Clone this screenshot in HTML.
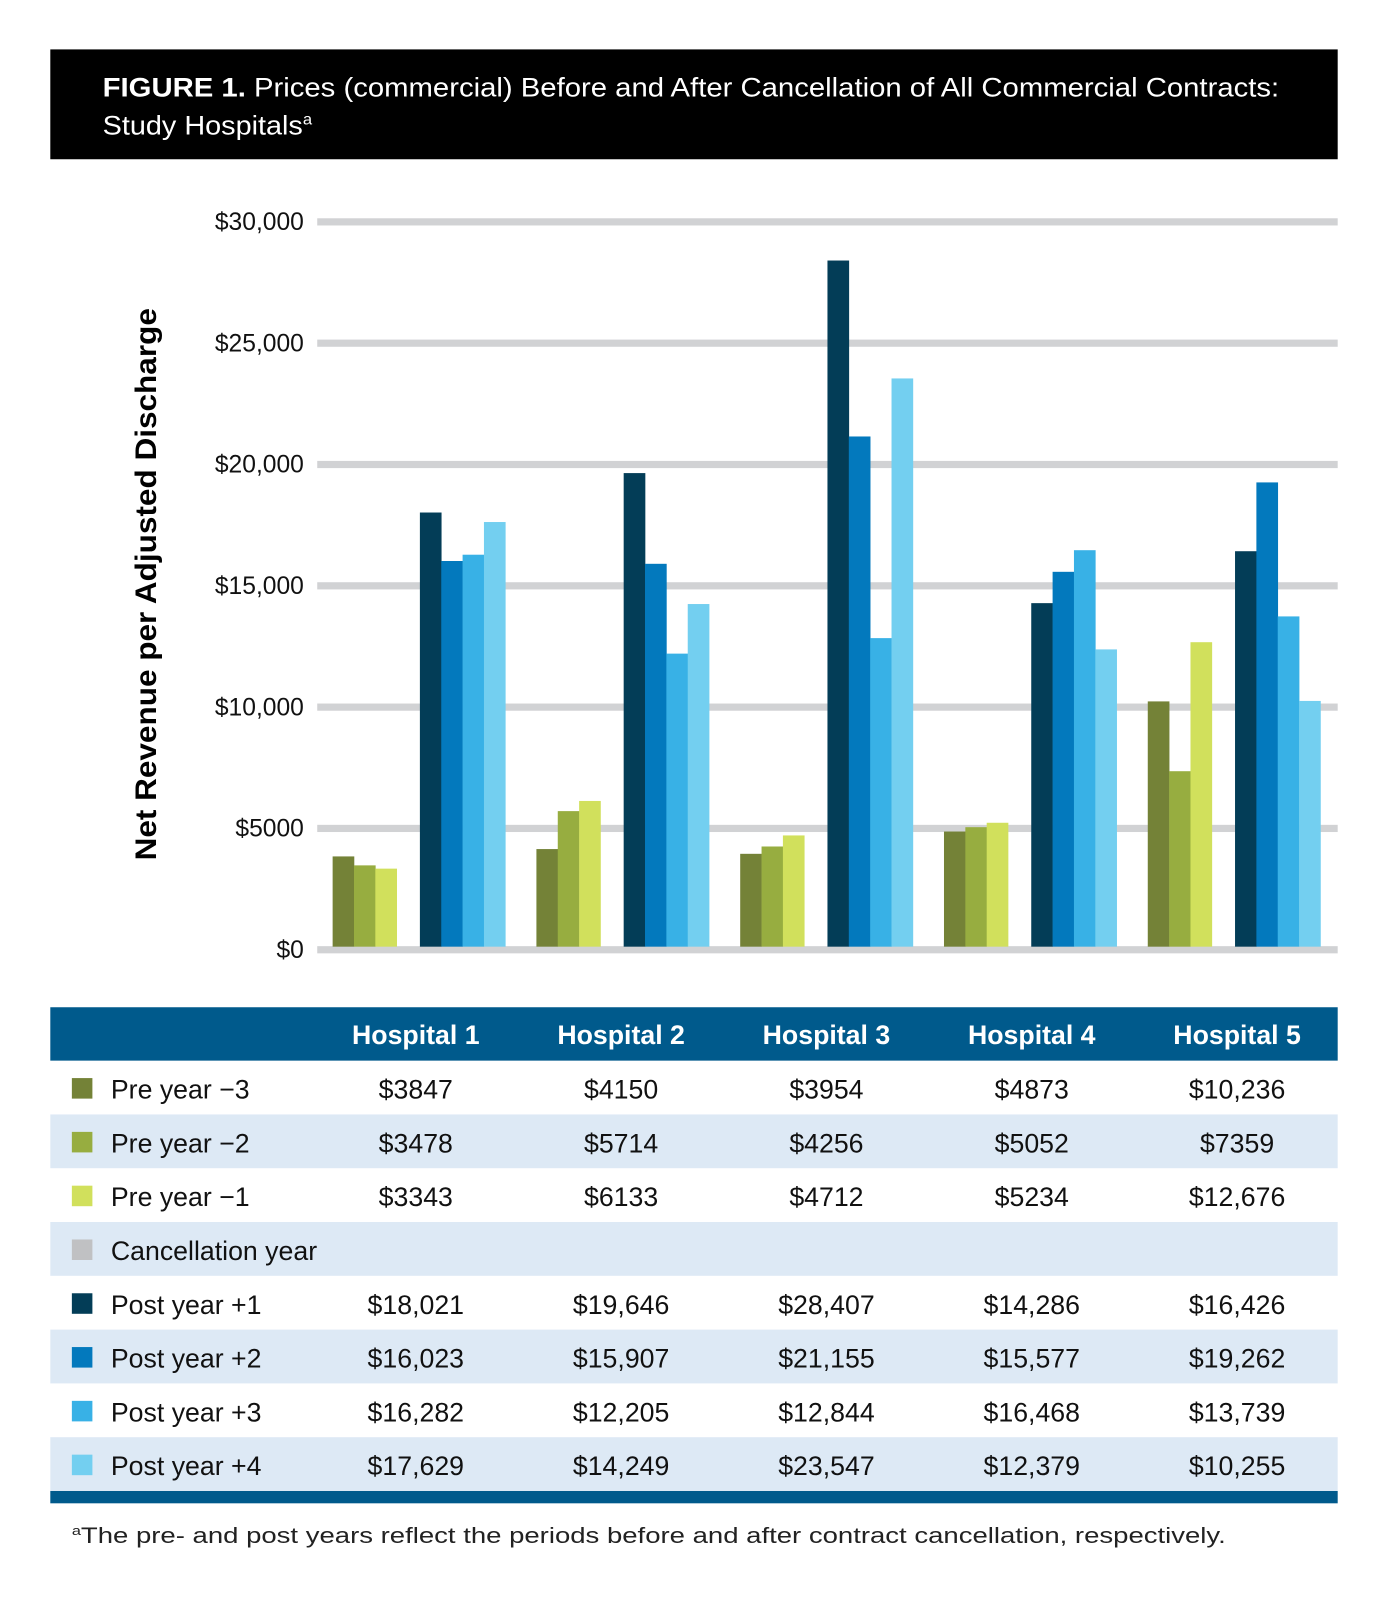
<!DOCTYPE html>
<html><head><meta charset="utf-8"><style>
html,body{margin:0;padding:0;background:#fff;}
svg{display:block;font-family:"Liberation Sans Narrow","Liberation Sans",sans-serif;}
</style></head><body>
<svg id="fig" width="1388" height="1610" viewBox="0 0 1352 1568" xmlns="http://www.w3.org/2000/svg">
<rect x="49" y="48" width="1254" height="107" fill="#000"/>
<text x="100" y="94" fill="#fff" font-size="26" textLength="1146" lengthAdjust="spacingAndGlyphs"><tspan font-weight="bold">FIGURE 1.</tspan> Prices (commercial) Before and After Cancellation of All Commercial Contracts:</text>
<text x="100" y="131" fill="#fff" font-size="26" textLength="204" lengthAdjust="spacingAndGlyphs">Study Hospitals<tspan font-size="15" dy="-10">a</tspan></text>
<g id="grid"></g>
<g id="bars"></g>
<text transform="translate(152,569) rotate(-90)" text-anchor="middle" font-family="Liberation Sans, sans-serif" font-weight="bold" font-size="29" textLength="538" lengthAdjust="spacingAndGlyphs">Net Revenue per Adjusted Discharge</text>
<g id="table"></g>
<text x="70" y="1503" font-size="22" fill="#222" textLength="1124" lengthAdjust="spacingAndGlyphs"><tspan font-size="13" dy="-8">a</tspan><tspan dy="8">The pre- and post years reflect the periods before and after contract cancellation, respectively.</tspan></text>
</svg>
<script>
const hospitals = ["Hospital 1","Hospital 2","Hospital 3","Hospital 4","Hospital 5"];
const seriesNames = ["Pre year \u22123","Pre year \u22122","Pre year \u22121","Cancellation year","Post year +1","Post year +2","Post year +3","Post year +4"];
const preM3 = [3847,4150,3954,4873,10236];
const preM2 = [3478,5714,4256,5052,7359];
const preM1 = [3343,6133,4712,5234,12676];
const cancel = [null,null,null,null,null];
const post1 = [18021,19646,28407,14286,16426];
const post2 = [16023,15907,21155,15577,19262];
const post3 = [16282,12205,12844,16468,13739];
const post4 = [17629,14249,23547,12379,10255];
const yTicks = [0,5000,10000,15000,20000,25000,30000];
const yTickLabels = ["$0","$5000","$10,000","$15,000","$20,000","$25,000","$30,000"];
const seriesData = [preM3,preM2,preM1,cancel,post1,post2,post3,post4];
const colors = ["#748237","#97ad40","#d1e05c","#c0c1c3","#033d57","#0379bd","#38b1e6","#73cff0"];

const NS="http://www.w3.org/2000/svg";
function mk(tag,attrs,parent){const e=document.createElementNS(NS,tag);for(const k in attrs)e.setAttribute(k,attrs[k]);parent.appendChild(e);return e;}
const yScale=v=>925-v/30000*709;
const barW=20.8;
function xBar(h,s){ return s<3 ? 324+198.5*h+s*barW : 409+198.5*h+(s-4)*barW; }
function fmt(v){ return v==null?"":(v>=10000? "$"+v.toLocaleString("en-US") : "$"+v); }

const grid=document.getElementById('grid');
yTicks.forEach((t,i)=>{
  const y=yScale(t);
  const l=mk('rect',{x:309,y:y-3.5,width:994,height:7,fill:"#d1d2d4"},grid);
  
  
  const tx=mk('text',{x:296,y:y+8,'text-anchor':'end','font-size':24,fill:'#111'},grid);
  
  
  tx.textContent=yTickLabels[i];
});
const bars=document.getElementById('bars');
seriesData.forEach((arr,s)=>{
  arr.forEach((v,h)=>{
    if(v==null) return;
    const y=yScale(v), y0=yScale(0)-3;
    const r=mk('rect',{x:xBar(h,s),y:y,width:barW+0.3,height:y0-y,fill:colors[s]},bars);
    
    
  });
});
const tb=document.getElementById('table');
const hdr=mk('rect',{x:49,y:981,width:1254,height:52,fill:"#005a8c"},tb);


hospitals.forEach((h,i)=>{
  const t=mk('text',{x:405+200*i,y:1017,'text-anchor':'middle','font-size':26,'font-weight':'bold',fill:'#fff'},tb);
  
  
  t.textContent=h;
});
const rowH=52.4;
seriesNames.forEach((n,s)=>{
  const top=1033+rowH*s;
  if(s%2===1){
    const bg=mk('rect',{x:49,y:top,width:1254,height:rowH,fill:"#dde9f5"},tb);
    
    
  }
  const sw=mk('rect',{x:70,y:top+17,width:20,height:20,fill:colors[s]},tb);
  
  
  const lb=mk('text',{x:108,y:top+37,'font-size':26,fill:'#111'},tb);
  
  
  lb.textContent=n;
  seriesData[s].forEach((v,h)=>{
    if(v==null) return;
    const c=mk('text',{x:405+200*h,y:top+37,'text-anchor':'middle','font-size':26,fill:'#111'},tb);
    
    
    c.textContent=fmt(v);
  });
});
const bot=mk('rect',{x:49,y:1033+rowH*8,width:1254,height:12,fill:"#005a8c"},tb);


</script>
</body></html>
